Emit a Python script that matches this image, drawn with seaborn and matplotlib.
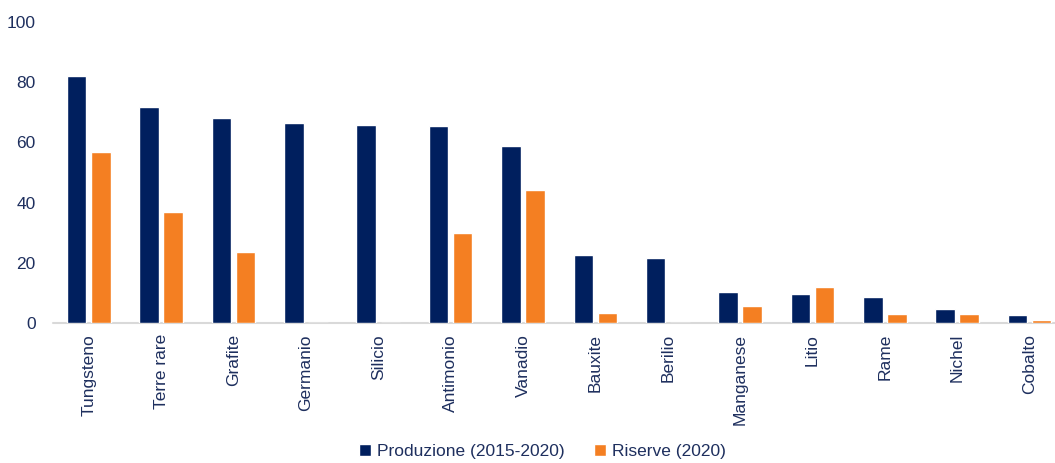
import matplotlib
matplotlib.use("Agg")
import matplotlib.pyplot as plt
import seaborn as sns
import pandas as pd

# Share of global supply concentrated in the top producer, by raw material
minerali = ["Tungsteno", "Terre rare", "Grafite", "Germanio", "Silicio", "Antimonio",
            "Vanadio", "Bauxite", "Berilio", "Manganese", "Litio", "Rame", "Nichel", "Cobalto"]
produzione = [82.0, 71.8, 68.0, 66.3, 65.7, 65.6, 58.8, 22.6, 21.6, 10.4, 9.7, 8.5, 4.6, 2.6]
riserve = [56.9, 36.9, 23.6, 0.0, 0.0, 29.8, 44.1, 3.2, 0.0, 5.8, 12.0, 3.1, 3.1, 1.1]
serie = ["Produzione (2015-2020)", "Riserve (2020)"]
y_ticks = [0, 20, 40, 60, 80, 100]

NAVY = "#001F5E"
ORANGE = "#F47F22"
TEXT = "#1E2F5E"

df = pd.DataFrame({
    "minerale": minerali * 2,
    "quota": produzione + riserve,
    "serie": [serie[0]] * len(minerali) + [serie[1]] * len(minerali),
})

sns.set_theme(style="white")
plt.rcParams["font.family"] = ["Liberation Sans", "DejaVu Sans"]

fig = plt.figure(figsize=(10.55, 4.63), dpi=100)
ax = fig.add_axes([0.0498, 0.3024, 0.9604, 0.6501])

sns.barplot(data=df, x="minerale", y="quota", hue="serie", order=minerali,
            hue_order=serie, palette=[NAVY, ORANGE], width=0.666, gap=0.19,
            saturation=1, errorbar=None, ax=ax, legend=True)
for bar in ax.patches:
    bar.set_zorder(2)

ax.set_ylim(0, 100)
ax.set_yticks(y_ticks)
ax.set_xlim(-0.5, len(minerali) - 0.5)
ax.set_xlabel("")
ax.set_ylabel("")

# light baseline drawn beneath the bars
for side in ("top", "right", "left", "bottom"):
    ax.spines[side].set_visible(False)
ax.axhline(0, color="#D9D9D9", linewidth=1.5, zorder=1, clip_on=False)

ax.tick_params(axis="y", length=0, pad=12, labelsize=12.5, labelcolor=TEXT)
ax.tick_params(axis="x", length=0, pad=8, labelsize=12.5, labelcolor=TEXT)
plt.setp(ax.get_xticklabels(), rotation=90, ha="center", va="top")

handles, labels = ax.get_legend_handles_labels()
ax.get_legend().remove()
fig.legend(handles, labels, loc="center", bbox_to_anchor=(0.514, 0.024), ncol=2,
           frameon=False, fontsize=12.5, labelcolor=TEXT, handlelength=0.69,
           handleheight=0.69, handletextpad=0.35, columnspacing=1.7)

fig.savefig("out.png", dpi=100, facecolor="white")
